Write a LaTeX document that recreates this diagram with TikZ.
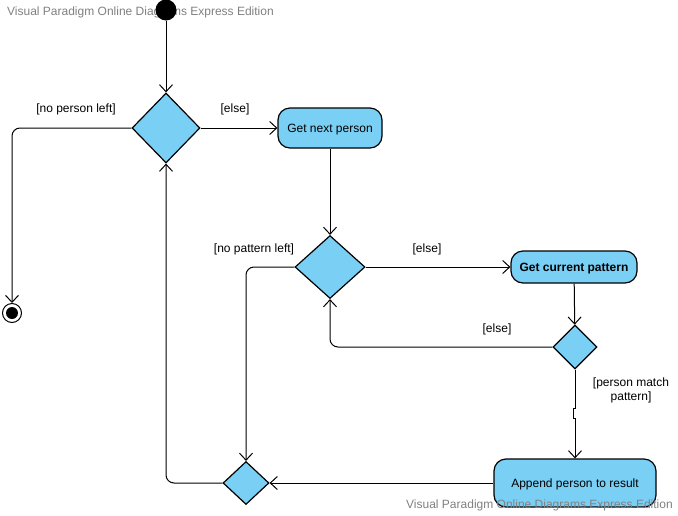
\documentclass[tikz,border=0pt]{standalone}
\usepackage{fontspec}
\setmainfont{Liberation Sans}
\usetikzlibrary{positioning, arrows.meta, shapes.geometric}
\definecolor{vpblue}{HTML}{7ACFF5}
\definecolor{wmgray}{HTML}{808080}

\begin{document}
\begin{tikzpicture}[
        x=1pt, y=-1pt,
        font=\fontsize{12}{14}\selectfont,
        action/.style={rectangle, rounded corners=12pt, draw=black, fill=vpblue, line width=1.2pt, inner xsep=8pt, align=center, text height=8.6pt, text depth=0pt},
        decision/.style={diamond, draw=black, fill=vpblue, line width=1.2pt, inner sep=0pt},
        flow/.style={-{Straight Barb[length=7pt, width=13pt]}, line width=1pt, rounded corners=8pt},
        guard/.style={align=center, text depth=0pt},
        watermark/.style={text=wmgray, anchor=west, inner sep=0pt}
    ]
        \useasboundingbox (0,0) rectangle (678,515);
        \node[watermark] (wmtop) at (7,12) {Visual Paradigm Online Diagrams Express Edition};

        % --- NODES ---
        \node[circle, fill=black, minimum size=21pt, inner sep=0pt] (start) at (166,10) {};
        \node[decision, minimum width=68pt, minimum height=70pt] (pick) at (166,128) {};
        \node[action, minimum width=104pt, minimum height=40pt] (nextperson) at (330,128) {Get next person};
        \node[decision, minimum width=70pt, minimum height=63pt] (patterns) at (330,267) {};
        \node[action, minimum width=126pt, minimum height=32pt, font=\fontsize{12}{14}\selectfont\bfseries] (curpattern) at (574,267) {Get current pattern};
        \node[decision, minimum width=44pt, minimum height=44pt] (match) at (575,347) {};
        \node[action, minimum width=162pt, minimum height=48pt] (append) at (575,483) {Append person to result};
        \node[decision, minimum width=46pt, minimum height=43pt] (merge) at (246,483) {};
        \node[circle, draw=black, line width=1pt, minimum size=19pt, inner sep=0pt] (final) at (12,313) {};
        \node[circle, fill=black, minimum size=12pt, inner sep=0pt] (finaldot) at (final) {};

        % --- GUARDS ---
        \node[guard] (nopersonlbl) at (76,108) {[no person left]};
        \node[guard] (elselbl1) at (235,108) {[else]};
        \node[guard] (nopatternlbl) at (254,248) {[no pattern left]};
        \node[guard] (elselbl2) at (427,248) {[else]};
        \node[guard] (elselbl3) at (497,328) {[else]};
        \node[guard] (matchlbl) at (631,389) {[person match\\pattern]};

        % --- CONNECTIONS ---
        \draw[flow] (start) -- (pick);
        \draw[flow] (pick) -- (nextperson);
        \draw[flow] (pick.west) -| (final);
        \draw[flow] (nextperson) -- (patterns);
        \draw[flow] (patterns) -- (curpattern);
        \draw[flow] (patterns.west) -| (merge);
        \draw[flow] (curpattern) -- (match);
        \draw[flow] (match.west) -| (patterns.south);
        \draw[flow, sharp corners] (match.south) -- ++(0,39) -- ++(-1.5,0) -- ++(0,10) -- ++(1.5,0) -- (append.north);
        \draw[flow] (append) -- (merge);
        \draw[flow] (merge.west) -| (pick.south);

        \node[watermark] (wmbottom) at (406,505) {Visual Paradigm Online Diagrams Express Edition};
    \end{tikzpicture}
\end{document}
